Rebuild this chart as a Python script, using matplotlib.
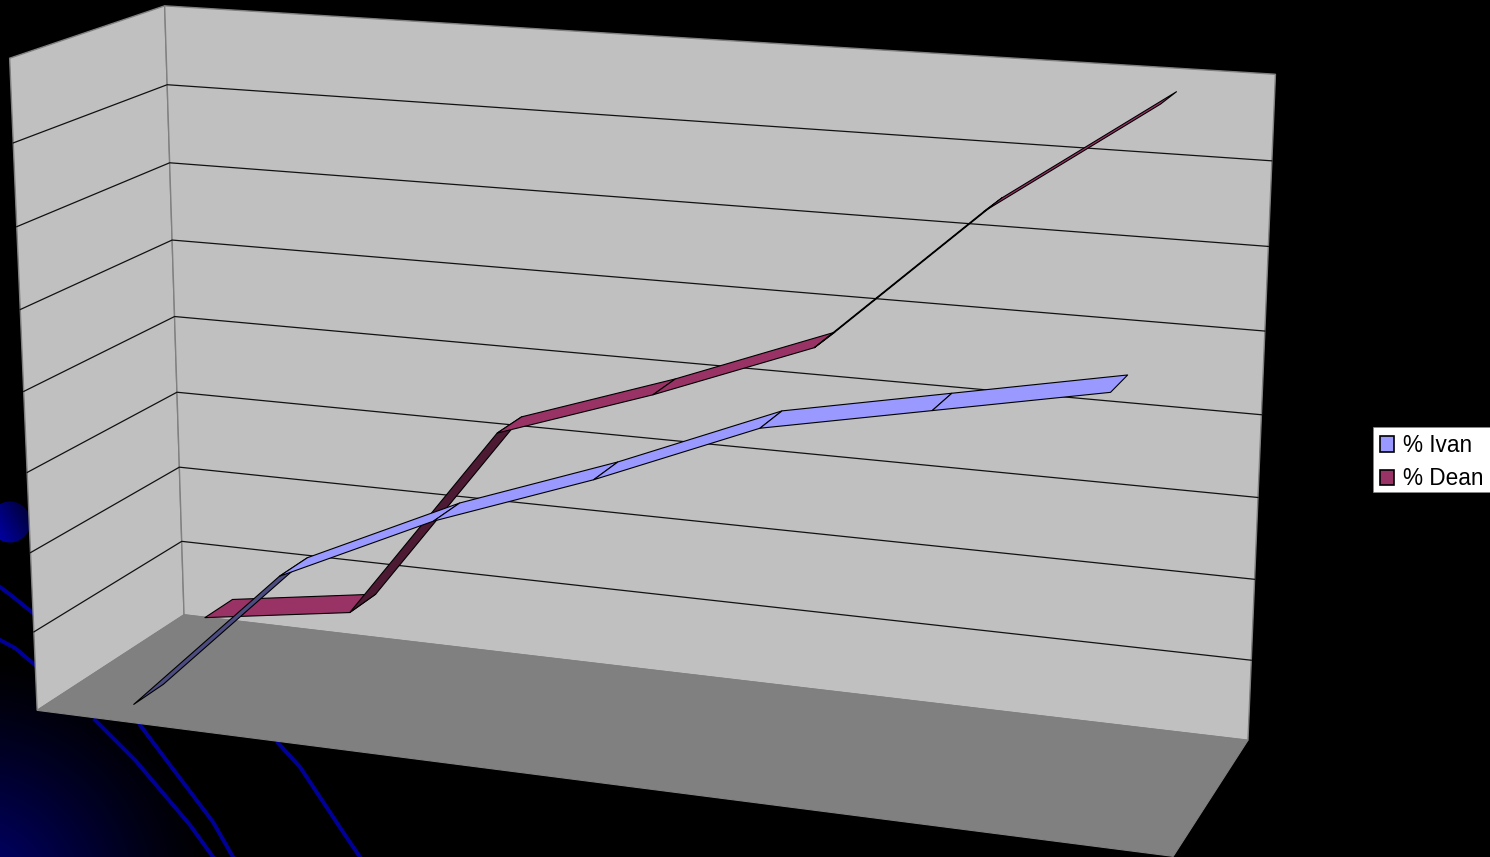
import matplotlib
matplotlib.use('Agg')
import matplotlib.pyplot as plt
import numpy as np
from matplotlib.patches import Circle, Patch, Polygon, Rectangle

# values in grid steps, the picture shows no axis labels
ivan = [0.0, 1.85, 2.74, 3.44, 4.24, 4.63, 5.02]
dean = [0.5, 0.79, 3.29, 3.95, 4.70, 6.47, 7.84]
series_names = ['% Ivan', '% Dean']
n_steps = 8

# 3d box of the chart is n_cats wide, n_steps high, two bands deep
camera = np.array([
    [-0.0839396233149184, 0.0020047104620565708, -0.04613400795429977, -0.021340078695404364],
    [-0.005203929737712298, 0.047004152037183715, 0.014275443405436832, -0.40804499295644775],
    [7.915706110400502e-06, 3.0853435621652e-06, -2.1421086366620802e-05, -0.0005744284856380326],
])
n_cats = len(ivan)


def project(x, y, z):
    h = camera @ np.array([x, y, z, 1.0])
    return h[0] / h[2], h[1] / h[2]


def draw_ribbon(ax, values, band, color, dark):
    z0, z1 = band + 0.30, band + 0.70
    for i in range(len(values) - 1):
        quad = [project(i + 0.5, values[i], z0), project(i + 1.5, values[i + 1], z0),
                project(i + 1.5, values[i + 1], z1), project(i + 0.5, values[i], z1)]
        q = np.array(quad)
        # winding tells if we look at the top or the underside of the ribbon
        area = np.sum(q[:, 0] * np.roll(q[:, 1], -1) - np.roll(q[:, 0], -1) * q[:, 1])
        face = color if area < 0 else dark
        ax.add_patch(Polygon(quad, closed=True, facecolor=face, edgecolor='black', linewidth=0.8,
                             joinstyle='round', zorder=5))


fig = plt.figure(figsize=(14.9, 8.57), dpi=100, facecolor='black')
ax = fig.add_axes([0, 0, 1, 1])
ax.set_facecolor('black')

# slide background behind the chart
yy, xx = np.mgrid[560:857, 0:300]
glow = np.clip(1 - np.hypot(xx + 30, yy - 900) / 250, 0, 1) ** 1.3
rgba = np.zeros(glow.shape + (4,))
rgba[..., 2] = 0.5
rgba[..., 3] = glow
ax.imshow(rgba, extent=(0, 300, 857, 560), aspect='auto', zorder=0)

cy, cx = np.mgrid[500:545, -12:33]
shade = np.clip(0.45 - 0.009 * (cx - 10) + 0.005 * (cy - 522), 0, 1)
ball = ax.imshow(np.dstack([0 * shade, 0 * shade, shade]), extent=(-12, 33, 545, 500), aspect='auto', zorder=1)
ball.set_clip_path(Circle((10, 522), 20.5, transform=ax.transData))

for px, py in [([0, 12, 33], [587, 596, 613]), ([0, 15, 35], [640, 648, 665]),
               ([95, 135, 190, 213], [720, 760, 825, 857]),
               ([140, 170, 213, 233], [725, 765, 822, 857]),
               ([278, 300, 345, 360], [743, 767, 835, 857])]:
    ax.plot(px, py, color='#000099', linewidth=2.8, zorder=1)

# walls and floor
back = [project(0, 0, 2), project(n_cats, 0, 2), project(n_cats, n_steps, 2), project(0, n_steps, 2)]
side = [project(0, 0, 0), project(0, 0, 2), project(0, n_steps, 2), project(0, n_steps, 0)]
floor = [project(0, 0, 0), project(n_cats, 0, 0), project(n_cats, 0, 2), project(0, 0, 2)]
ax.add_patch(Polygon(side, facecolor='#c0c0c0', edgecolor='#808080', linewidth=1.0, zorder=2))
ax.add_patch(Polygon(back, facecolor='#c0c0c0', edgecolor='#808080', linewidth=1.0, zorder=2))
ax.add_patch(Polygon(floor, facecolor='#808080', edgecolor='#808080', linewidth=0.8, zorder=3))

for s in range(1, n_steps):
    a, b, c = project(0, s, 0), project(0, s, 2), project(n_cats, s, 2)
    ax.plot([a[0], b[0], c[0]], [a[1], b[1], c[1]], color='#111111', linewidth=0.9, zorder=4)

draw_ribbon(ax, dean, 1, '#993366', '#4d1a33')
draw_ribbon(ax, ivan, 0, '#9999ff', '#4c4c80')

# legend box drawn apart so it can be tighter than the text needs
ax.add_patch(Rectangle((1373, 427), 120, 65, facecolor='white', edgecolor='#888888', linewidth=0.5, zorder=6))
handles = [Patch(facecolor='#9999ff', edgecolor='black', linewidth=1.2, label=series_names[0]),
           Patch(facecolor='#993366', edgecolor='black', linewidth=1.2, label=series_names[1])]
leg = ax.legend(handles=handles, loc='upper left', bbox_to_anchor=(1372, 426), bbox_transform=ax.transData,
                borderaxespad=0, frameon=False, prop={'family': 'Liberation Sans', 'size': 16.3},
                handlelength=0.62, handleheight=0.66, handletextpad=0.38, borderpad=0.35, labelspacing=0.46)
leg.set_zorder(7)

ax.set_xlim(0, 1490)
ax.set_ylim(857, 0)
ax.axis('off')
fig.savefig('out.png', dpi=100, facecolor='black')
